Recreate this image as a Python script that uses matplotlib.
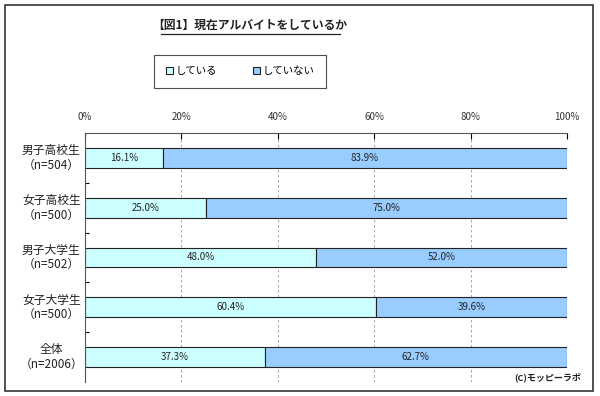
import numpy as np
import matplotlib.pyplot as plt
from matplotlib.patches import Rectangle

plt.rcParams['font.family'] = ['Noto Sans CJK JP', 'DejaVu Sans']

# data
groups = ['男子高校生\n（n=504）', '女子高校生\n（n=500）', '男子大学生\n（n=502）',
          '女子大学生\n（n=500）', '全体\n（n=2006）']
doing = [16.1, 25.0, 48.0, 60.4, 37.3]
not_doing = [83.9, 75.0, 52.0, 39.6, 62.7]
series_names = ['している', 'していない']
colors = ['#CCFFFF', '#99CCFF']

fig = plt.figure(figsize=(6, 3.96), dpi=100)
# outer frame
fig.patches.append(Rectangle((0.009, 0.013), 0.98, 0.975, transform=fig.transFigure,
                             fill=False, edgecolor='#333333', linewidth=1.2))

ax = fig.add_axes([0.1417, 0.0354, 0.8033, 0.6288])
y = np.arange(len(groups))
ax.barh(y, doing, height=0.4, color=colors[0], edgecolor='#222222', linewidth=0.8,
        label=series_names[0])
ax.barh(y, not_doing, left=doing, height=0.4, color=colors[1], edgecolor='#222222',
        linewidth=0.8, label=series_names[1])

for i in range(len(groups)):
    ax.text(doing[i] / 2, y[i], f'{doing[i]:.1f}%', ha='center', va='center',
            fontsize=7, color='#222222')
    ax.text(doing[i] + not_doing[i] / 2, y[i], f'{not_doing[i]:.1f}%', ha='center',
            va='center', fontsize=7, color='#222222')

ax.set_xlim(0, 100)
ax.set_ylim(len(groups) - 0.5, -0.5)
ax.xaxis.tick_top()
ax.set_xticks([0, 20, 40, 60, 80, 100])
ax.set_xticklabels(['0%', '20%', '40%', '60%', '80%', '100%'], fontsize=7, color='#333333')
ax.tick_params(axis='x', direction='in', length=4, pad=8, width=0.8)
ax.set_yticks(np.arange(len(groups) - 1) + 0.5)
ax.set_yticklabels([])
ax.tick_params(axis='y', direction='in', length=3, width=0.8)
for i, g in enumerate(groups):
    ax.text(-7, y[i], g, ha='center', va='center', fontsize=8.5, color='#222222',
            linespacing=1.15)
ax.grid(axis='x', linestyle=(0, (3, 3)), color='#999999', linewidth=0.6)
ax.set_axisbelow(True)
ax.spines['right'].set_visible(False)
ax.spines['bottom'].set_visible(False)
for s in ['top', 'left']:
    ax.spines[s].set_color('#555555')
    ax.spines[s].set_linewidth(0.8)

# title
fig.text(0.417, 0.936, '【図1】現在アルバイトをしているか', ha='center', va='center',
         fontsize=8.5, fontweight='bold', color='#222222')
fig.add_artist(plt.Line2D([0.268, 0.567], [0.914, 0.914], color='#222222', linewidth=0.9))

# legend
handles, labels = ax.get_legend_handles_labels()
leg = fig.legend(handles, labels, loc='center', bbox_to_anchor=(0.4, 0.82), ncol=2,
                 fontsize=7.5, frameon=True, fancybox=False, edgecolor='#222222',
                 handlelength=0.7, handleheight=0.7, handletextpad=0.2,
                 columnspacing=3.5, borderpad=1.1)
leg.get_frame().set_linewidth(0.8)

fig.text(0.968, 0.045, '(C)モッピーラボ', ha='right', va='center', fontsize=6.5,
         fontweight='bold', color='#222222')

fig.savefig('out.png', dpi=100)
